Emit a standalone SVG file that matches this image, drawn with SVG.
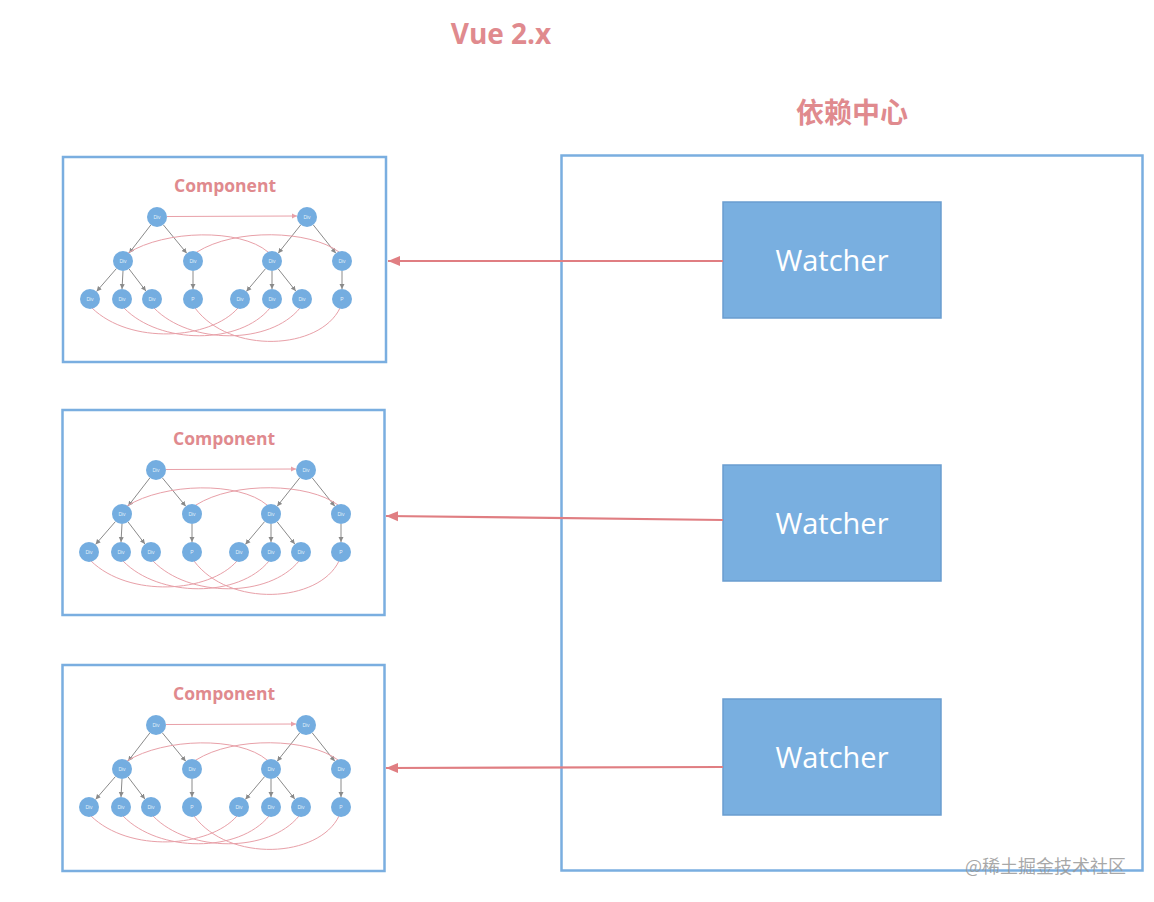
<svg xmlns="http://www.w3.org/2000/svg" xmlns:xlink="http://www.w3.org/1999/xlink" width="1154" height="902" viewBox="0 0 1154 902">
<style>
.box{fill:#fff;stroke:#7aaee0;stroke-width:2.5}
.wbox{fill:#79afe0;stroke:#6a9dcf;stroke-width:1.5}
.wtxt{font-family:"Open Sans","Noto Sans",sans-serif;font-size:29px;fill:#fff;text-anchor:middle}
.title{font-family:"Open Sans","Noto Sans","Noto Sans CJK SC",sans-serif;font-weight:bold;fill:#e08a8e;text-anchor:middle}
.ctitle{font-family:"Open Sans","Noto Sans",sans-serif;font-weight:bold;font-size:17.5px;fill:#e08a8e;text-anchor:middle}
.nd{fill:#74ade0}
.nt{font-family:"Liberation Sans",sans-serif;font-size:5px;fill:#fff;text-anchor:middle;fill-opacity:0.8}
.te{stroke:#8a8a8a;stroke-width:1;fill:none;marker-end:url(#ga)}
.rl{stroke:#e8a0a8;stroke-width:1;fill:none}
.conn{stroke:#e07e82;stroke-width:2.2;fill:none;marker-end:url(#ra)}
</style>
<defs>
<marker id="ga" markerWidth="6" markerHeight="6" refX="5" refY="3" orient="auto" markerUnits="userSpaceOnUse"><path d="M0,0.5 L5,3 L0,5.5 Z" fill="#8a8a8a"/></marker>
<marker id="rs" markerWidth="6" markerHeight="6" refX="5" refY="3" orient="auto" markerUnits="userSpaceOnUse"><path d="M0,0.5 L5,3 L0,5.5 Z" fill="#e8a0a8"/></marker>
<marker id="ra" markerWidth="14" markerHeight="12" refX="12" refY="6" orient="auto" markerUnits="userSpaceOnUse"><path d="M0,1 L12,6 L0,11 Z" fill="#e07e82"/></marker>
<g id="tree">
<path class="te" d="M150.9,224.9 L129.1,253.1"/>
<path class="te" d="M163.3,224.8 L186.7,253.2"/>
<path class="te" d="M300.8,224.8 L278.2,253.2"/>
<path class="te" d="M313.2,224.8 L335.8,253.2"/>
<path class="te" d="M116.4,268.6 L96.6,291.4"/>
<path class="te" d="M123,271 L122,289"/>
<path class="te" d="M129.1,269 L145.9,291"/>
<path class="te" d="M193,271 L193,289"/>
<path class="te" d="M265.6,268.6 L246.4,291.4"/>
<path class="te" d="M272,271 L272,289"/>
<path class="te" d="M278.2,268.9 L295.8,291.1"/>
<path class="te" d="M342,271 L342,289"/>
<path class="rl" d="M167,216.5 L297,216" marker-end="url(#rs)"/>
<path class="rl" d="M128,253 C165,230 240,228 268,252"/>
<path class="rl" d="M197,252 C235,228 310,230 339,252"/>
<path class="rl" d="M92,308 C130,345 210,340 238,308"/>
<path class="rl" d="M124,308 C160,345 240,345 270,308"/>
<path class="rl" d="M154,308 C190,345 270,345 300,308"/>
<path class="rl" d="M195,308 C230,355 320,350 340,308"/>
<circle class="nd" cx="157" cy="217" r="10"/><text class="nt" x="157" y="219">Div</text>
<circle class="nd" cx="307" cy="217" r="10"/><text class="nt" x="307" y="219">Div</text>
<circle class="nd" cx="123" cy="261" r="10"/><text class="nt" x="123" y="263">Div</text>
<circle class="nd" cx="193" cy="261" r="10"/><text class="nt" x="193" y="263">Div</text>
<circle class="nd" cx="272" cy="261" r="10"/><text class="nt" x="272" y="263">Div</text>
<circle class="nd" cx="342" cy="261" r="10"/><text class="nt" x="342" y="263">Div</text>
<circle class="nd" cx="90" cy="299" r="10"/><text class="nt" x="90" y="301">Div</text>
<circle class="nd" cx="122" cy="299" r="10"/><text class="nt" x="122" y="301">Div</text>
<circle class="nd" cx="152" cy="299" r="10"/><text class="nt" x="152" y="301">Div</text>
<circle class="nd" cx="193" cy="299" r="10"/><text class="nt" x="193" y="301">P</text>
<circle class="nd" cx="240" cy="299" r="10"/><text class="nt" x="240" y="301">Div</text>
<circle class="nd" cx="272" cy="299" r="10"/><text class="nt" x="272" y="301">Div</text>
<circle class="nd" cx="302" cy="299" r="10"/><text class="nt" x="302" y="301">Div</text>
<circle class="nd" cx="342" cy="299" r="10"/><text class="nt" x="342" y="301">P</text>
</g>
</defs>
<rect width="1154" height="902" fill="#fff"/>
<text class="title" x="501" y="44" font-size="28">Vue 2.x</text>
<text class="title" x="852" y="123" font-size="28">依赖中心</text>
<g id="depCenter"><rect class="box" x="561.5" y="155.5" width="581" height="715"/></g>
<g id="component1">
<rect class="box" x="63" y="157" width="323" height="205"/>
<text class="ctitle" x="225" y="192">Component</text>
<use xlink:href="#tree"/>
</g>
<g id="component2">
<rect class="box" x="62.5" y="410" width="322" height="205"/>
<text class="ctitle" x="224" y="445">Component</text>
<use xlink:href="#tree" transform="translate(-1,253)"/>
</g>
<g id="component3">
<rect class="box" x="62.5" y="665" width="322" height="206"/>
<text class="ctitle" x="224" y="700">Component</text>
<use xlink:href="#tree" transform="translate(-1,508)"/>
</g>
<g id="watcher1"><rect class="wbox" x="723" y="202" width="218" height="116"/><text class="wtxt" x="832" y="271">Watcher</text></g>
<g id="watcher2"><rect class="wbox" x="723" y="465" width="218" height="116"/><text class="wtxt" x="832" y="534">Watcher</text></g>
<g id="watcher3"><rect class="wbox" x="723" y="699" width="218" height="116"/><text class="wtxt" x="832" y="768">Watcher</text></g>
<g id="connectors">
<path class="conn" d="M723,261 L388,261"/>
<path class="conn" d="M723,520 L386,516"/>
<path class="conn" d="M723,767 L386,768"/>
</g>
<text x="965" y="873" font-family="'Noto Sans CJK SC',sans-serif" font-size="18" fill="#999" fill-opacity="0.85">@稀土掘金技术社区</text>
</svg>
